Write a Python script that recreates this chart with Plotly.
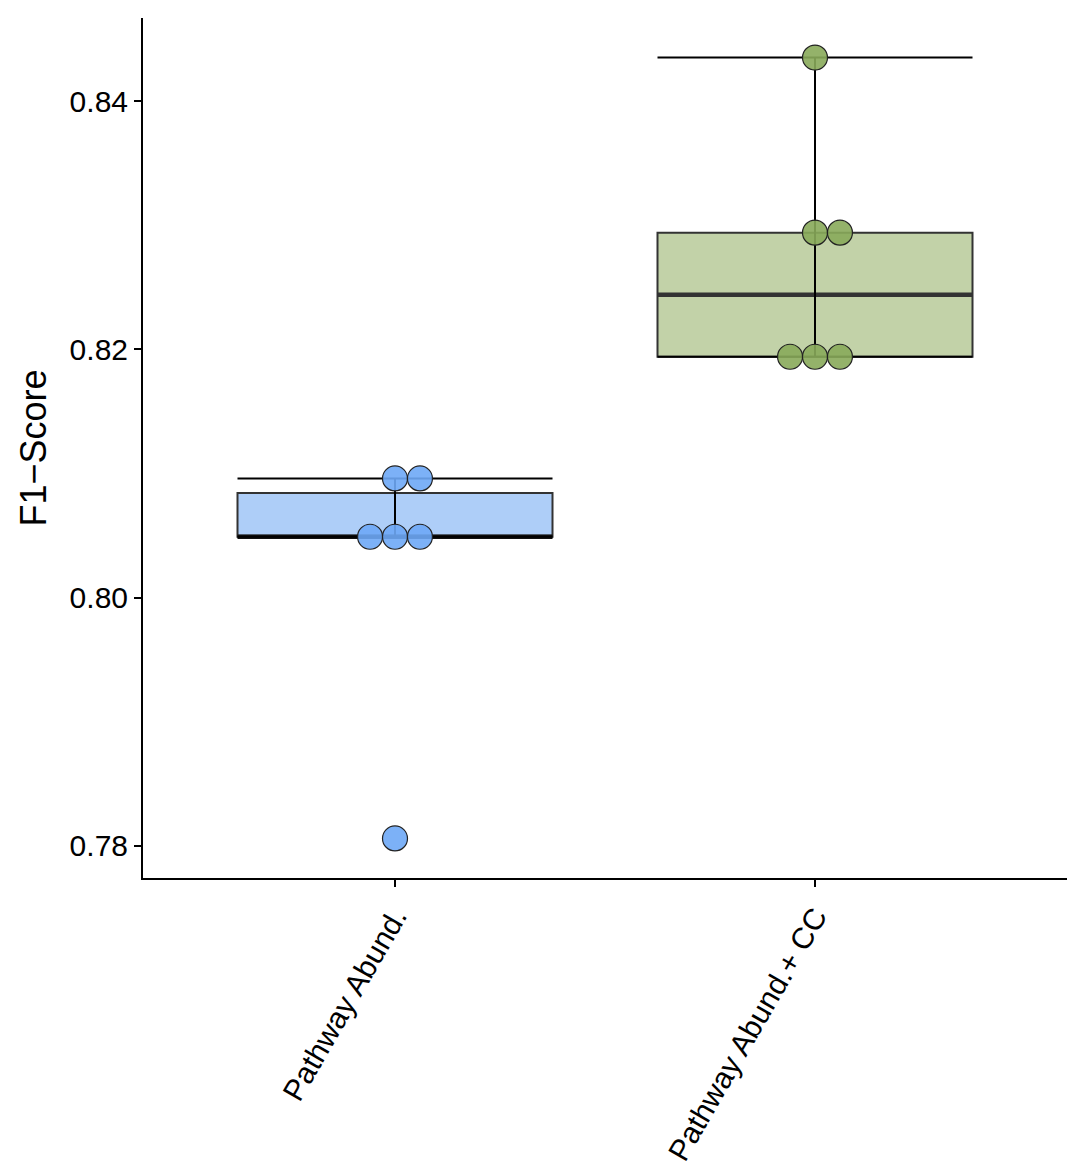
import numpy as np
import plotly.graph_objects as go

categories = ["Pathway Abund.", "Pathway Abund.+ CC"]
scores_pathway = [0.7806, 0.8049, 0.8049, 0.8049, 0.8096, 0.8096]
scores_pathway_cc = [0.8194, 0.8194, 0.8194, 0.8294, 0.8294, 0.8435]
series = [scores_pathway, scores_pathway_cc]

box_fill = ["#AECEF8", "#C2D2A8"]
dot_fill = ["rgba(110,168,246,0.9)", "rgba(136,170,90,0.9)"]
median_color = ["#111111", "#333333"]
y_ticks = [0.78, 0.80, 0.82, 0.84]

BOX_W = 0.75
DOT_STEP = 0.0594  # horizontal stacking step (x-axis units)

fig = go.Figure()

for i, (cat, vals) in enumerate(zip(categories, series)):
    v = np.array(vals)
    q1, med, q3 = np.percentile(v, [25, 50, 75])
    iqr = q3 - q1
    inside = v[(v >= q1 - 1.5 * iqr) & (v <= q3 + 1.5 * iqr)]
    lo, hi = inside.min(), inside.max()

    fig.add_trace(go.Box(
        x=[i], q1=[q1], median=[med], q3=[q3], lowerfence=[q1], upperfence=[q3],
        width=BOX_W, fillcolor=box_fill[i], line=dict(color="#333333", width=2),
        boxpoints=False, showlegend=False, hoverinfo="skip",
    ))
    h = BOX_W / 2
    fig.add_trace(go.Scatter(
        x=[i - h, i + h], y=[med, med], mode="lines",
        line=dict(color=median_color[i], width=4.5), showlegend=False, hoverinfo="skip",
    ))
    fig.add_trace(go.Scatter(
        x=[i - h, i + h, None, i, i, None, i - h, i + h],
        y=[hi, hi, None, hi, lo, None, lo, lo],
        mode="lines", line=dict(color="black", width=2),
        showlegend=False, hoverinfo="skip",
    ))
    xs, ys = [], []
    for u in sorted(set(vals)):
        n = vals.count(u)
        for k in range(n):
            xs.append(i + (k - (n - 1) // 2) * DOT_STEP)
            ys.append(u)
    fig.add_trace(go.Scatter(
        x=xs, y=ys, mode="markers",
        marker=dict(size=25, color=dot_fill[i], line=dict(color="#222222", width=1.2)),
        showlegend=False, hoverinfo="skip",
    ))

fig.update_layout(
    width=1067, height=1171,
    margin=dict(l=143, r=0, t=18, b=293),
    plot_bgcolor="white", paper_bgcolor="white",
    font=dict(family="Liberation Sans, Arial, sans-serif", size=30, color="black"),
)
fig.update_xaxes(
    range=[-0.6, 1.6], tickvals=[0, 1], ticktext=categories, tickangle=-60,
    showgrid=False, zeroline=False, showline=True, linecolor="black", linewidth=2,
    ticks="outside", ticklen=7, tickwidth=2, tickcolor="black",
    tickfont=dict(size=30), automargin=False,
)
fig.update_yaxes(
    range=[0.77741, 0.84669], tickvals=y_ticks, tickformat=".2f",
    showgrid=False, zeroline=False, showline=True, linecolor="black", linewidth=2,
    ticks="outside", ticklen=7, tickwidth=2, tickcolor="black",
    tickfont=dict(size=30), automargin=False,
    title=dict(text="F1\u2212Score", font=dict(size=36), standoff=12),
)

fig.write_html(
    "out.html",
    config={"displayModeBar": False},
    post_script="document.body.style.margin='0';document.body.style.overflow='hidden';",
)
